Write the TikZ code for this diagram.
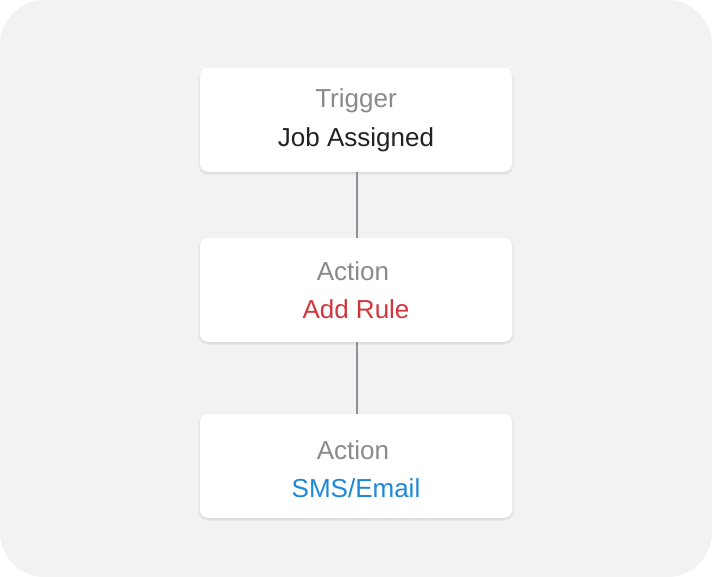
\documentclass[tikz,border=0pt]{standalone}
\usepackage{fontspec}
\setmainfont{Liberation Sans}
\definecolor{bgc}{HTML}{F2F2F2}
\definecolor{lblc}{HTML}{8A8A8A}
\definecolor{valc}{HTML}{222222}
\definecolor{redc}{HTML}{D0363B}
\definecolor{bluec}{HTML}{1E88D8}
\definecolor{linec}{HTML}{8E8F99}
\begin{document}
\begin{tikzpicture}[x=1pt,y=-1pt,
  card/.style={draw=none,fill=white,rounded corners=8pt,minimum width=312pt,minimum height=104pt,inner sep=0pt},
  lbl/.style={font=\fontsize{26}{30}\selectfont,text=lblc,anchor=base,inner sep=0pt},
  val/.style={font=\fontsize{26}{30}\selectfont,anchor=base,inner sep=0pt},
  conn/.style={draw=linec,line width=2pt}]
\useasboundingbox (0,0) rectangle (712,577);
\fill[white] (0,0) rectangle (712,577);
\fill[bgc,rounded corners=45pt] (0,0) rectangle (712,577);
% shadows
\foreach \t in {68,238,414}{
  \fill[black,opacity=0.035,rounded corners=10pt] (198,\t+1) rectangle (514,\t+107);
  \fill[black,opacity=0.06,rounded corners=8pt] (200,\t+1) rectangle (512,\t+105.5);
}
\node[card] (c1) at (356,120) {};
\node[card] (c2) at (356,290) {};
\node[card] (c3) at (356,466) {};
\node[lbl] (t1) at (356,108) {Trigger};
\node[val,text=valc] (v1) at (356,147) {Job Assigned};
\node[lbl] (t2) at (353,280) {Action};
\node[val,text=redc] (v2) at (356,318) {Add Rule};
\node[lbl] (t3) at (353,459) {Action};
\node[val,text=bluec] (v3) at (356,497) {SMS/Email};
\draw[conn] (c1.south) ++(1,0) coordinate (a1) -- (a1 |- c2.north);
\draw[conn] (c2.south) ++(1,0) coordinate (a2) -- (a2 |- c3.north);
\end{tikzpicture}
\end{document}
